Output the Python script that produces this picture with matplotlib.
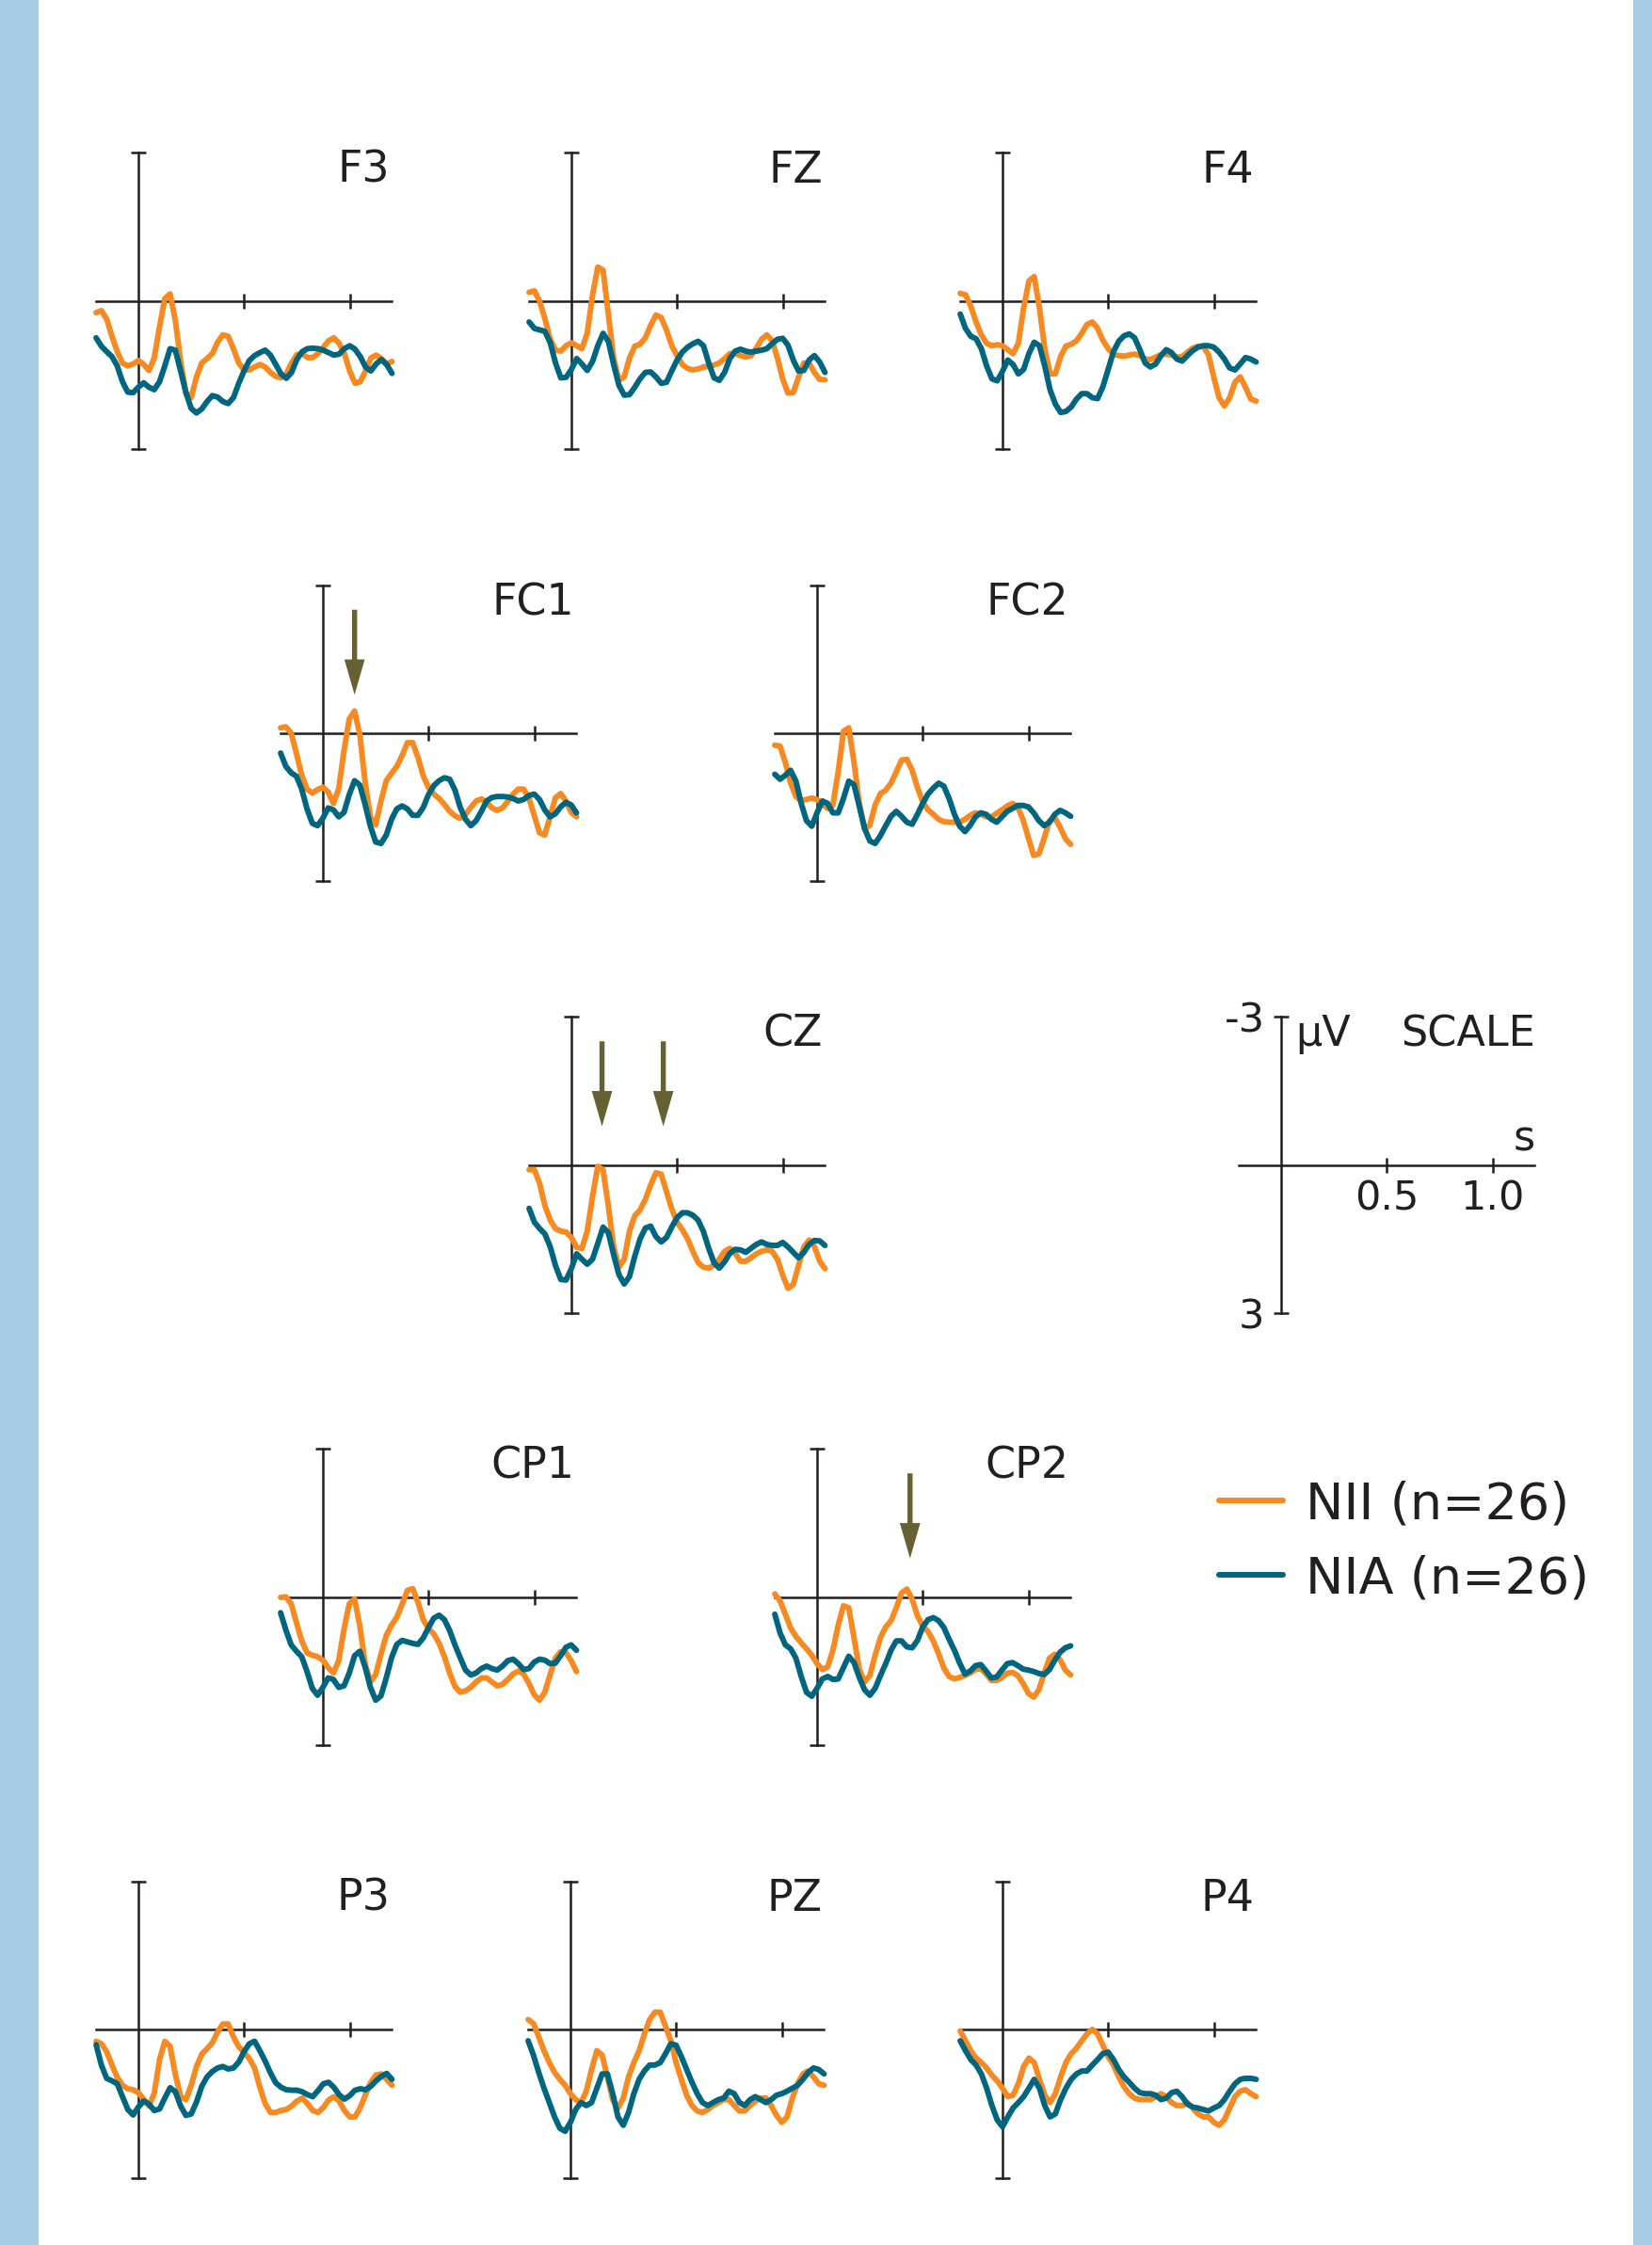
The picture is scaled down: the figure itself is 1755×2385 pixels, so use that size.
"""
ERP grand averages, NII vs NIA, 11 electrodes plus a scale panel.
Negative is plotted up, as usual for ERPs.
"""

import numpy as np
import matplotlib
matplotlib.use("Agg")
import matplotlib.pyplot as plt
from matplotlib.patches import FancyArrowPatch, ArrowStyle, Rectangle
from matplotlib.lines import Line2D

# --- data: amplitude (uV) sampled every 25 ms from -0.2 s to 1.2 s ---
F3_NII = [0.24, 0.20, 0.37, 0.72, 1.03, 1.26, 1.32, 1.28, 1.21, 1.29, 1.41, 1.16, 0.53, -0.04, -0.14, 0.40,
          1.23, 1.86, 1.96, 1.54, 1.26, 1.17, 1.07, 0.84, 0.69, 0.72, 0.97, 1.26, 1.40, 1.40, 1.34, 1.29,
          1.34, 1.45, 1.53, 1.56, 1.48, 1.26, 1.09, 1.07, 1.15, 1.15, 1.07, 0.94, 0.81, 0.75, 0.86, 1.07,
          1.42, 1.67, 1.64, 1.42, 1.16, 1.10, 1.17, 1.28, 1.23]
F3_NIA = [0.75, 0.92, 1.03, 1.13, 1.32, 1.64, 1.85, 1.86, 1.75, 1.66, 1.75, 1.80, 1.64, 1.32, 0.97, 1.00,
          1.42, 1.86, 2.18, 2.27, 2.19, 2.04, 1.92, 1.95, 2.04, 2.08, 1.96, 1.67, 1.42, 1.21, 1.11, 1.05,
          1.00, 1.10, 1.29, 1.48, 1.57, 1.45, 1.19, 1.03, 0.97, 0.96, 0.97, 1.00, 1.05, 1.10, 1.08, 0.97,
          0.91, 0.98, 1.13, 1.34, 1.42, 1.28, 1.19, 1.29, 1.47]

FZ_NII = [-0.17, -0.20, 0.01, 0.37, 0.78, 1.00, 1.02, 0.91, 0.85, 0.91, 0.97, 0.66, -0.11, -0.68, -0.62, 0.27,
          1.16, 1.61, 1.54, 1.16, 0.92, 0.88, 0.75, 0.50, 0.29, 0.34, 0.59, 0.91, 1.11, 1.29, 1.37, 1.40,
          1.38, 1.34, 1.33, 1.30, 1.26, 1.17, 1.07, 1.07, 1.11, 1.14, 1.11, 0.96, 0.78, 0.69, 0.81, 1.16,
          1.58, 1.87, 1.86, 1.55, 1.26, 1.26, 1.45, 1.59, 1.60]
FZ_NIA = [0.43, 0.56, 0.59, 0.62, 0.85, 1.26, 1.56, 1.55, 1.39, 1.17, 1.28, 1.41, 1.23, 0.91, 0.66, 0.82,
          1.29, 1.71, 1.91, 1.90, 1.75, 1.58, 1.45, 1.44, 1.54, 1.67, 1.65, 1.42, 1.20, 1.04, 0.94, 0.87,
          0.82, 0.91, 1.26, 1.56, 1.61, 1.45, 1.17, 1.02, 0.98, 1.02, 1.04, 1.02, 1.00, 0.97, 0.87, 0.78,
          0.76, 0.90, 1.20, 1.42, 1.41, 1.20, 1.11, 1.24, 1.45]

F4_NII = [-0.15, -0.12, 0.11, 0.43, 0.69, 0.86, 0.91, 0.89, 0.91, 0.99, 1.07, 0.86, 0.15, -0.40, -0.49, 0.15,
          0.97, 1.48, 1.48, 1.13, 0.92, 0.88, 0.81, 0.66, 0.48, 0.43, 0.56, 0.80, 0.97, 1.08, 1.11, 1.12,
          1.10, 1.08, 1.11, 1.18, 1.19, 1.14, 1.09, 1.08, 1.10, 1.14, 1.13, 1.04, 0.96, 0.92, 0.92, 1.10,
          1.55, 1.96, 2.13, 1.96, 1.65, 1.54, 1.75, 1.99, 2.03]
F4_NIA = [0.27, 0.56, 0.72, 0.77, 0.97, 1.32, 1.58, 1.62, 1.43, 1.20, 1.29, 1.48, 1.39, 1.07, 0.84, 0.91,
          1.32, 1.80, 2.09, 2.26, 2.24, 2.15, 1.99, 1.88, 1.88, 1.96, 1.98, 1.74, 1.39, 1.03, 0.82, 0.71,
          0.67, 0.75, 0.99, 1.26, 1.34, 1.28, 1.11, 0.99, 1.05, 1.18, 1.22, 1.11, 1.01, 0.94, 0.91, 0.91,
          0.94, 1.04, 1.18, 1.36, 1.40, 1.28, 1.15, 1.18, 1.24]

FC1_NII = [-0.11, -0.13, 0.00, 0.41, 0.85, 1.13, 1.21, 1.14, 1.09, 1.19, 1.42, 1.12, 0.35, -0.29, -0.45, 0.03,
           0.99, 1.69, 1.85, 1.37, 0.96, 0.81, 0.67, 0.45, 0.19, 0.19, 0.49, 0.86, 1.10, 1.23, 1.32, 1.44,
           1.58, 1.67, 1.72, 1.64, 1.50, 1.37, 1.33, 1.40, 1.51, 1.56, 1.51, 1.38, 1.23, 1.13, 1.13, 1.31,
           1.66, 2.01, 2.06, 1.69, 1.31, 1.22, 1.37, 1.60, 1.69]
FC1_NIA = [0.40, 0.67, 0.80, 0.87, 1.13, 1.53, 1.82, 1.87, 1.72, 1.51, 1.55, 1.69, 1.60, 1.24, 0.96, 1.05,
           1.44, 1.88, 2.20, 2.23, 2.06, 1.74, 1.53, 1.47, 1.53, 1.66, 1.66, 1.50, 1.24, 1.06, 0.96, 0.90,
           0.93, 1.15, 1.50, 1.74, 1.87, 1.77, 1.58, 1.37, 1.30, 1.28, 1.28, 1.29, 1.32, 1.37, 1.34, 1.26,
           1.23, 1.34, 1.55, 1.69, 1.63, 1.49, 1.40, 1.45, 1.61]

FC2_NII = [0.24, 0.26, 0.59, 1.01, 1.28, 1.36, 1.34, 1.31, 1.34, 1.43, 1.52, 1.45, 0.78, -0.04, -0.11, 0.59,
           1.42, 1.93, 1.86, 1.45, 1.22, 1.15, 1.01, 0.78, 0.54, 0.53, 0.75, 1.10, 1.39, 1.55, 1.64, 1.74,
           1.79, 1.80, 1.80, 1.80, 1.74, 1.66, 1.61, 1.64, 1.69, 1.69, 1.62, 1.55, 1.47, 1.42, 1.50, 1.75,
           2.12, 2.47, 2.44, 2.12, 1.77, 1.71, 1.90, 2.13, 2.25]
FC2_NIA = [0.83, 0.93, 0.85, 0.75, 0.97, 1.42, 1.77, 1.88, 1.61, 1.37, 1.42, 1.61, 1.61, 1.32, 0.97, 1.04,
           1.48, 1.93, 2.18, 2.23, 2.07, 1.87, 1.68, 1.58, 1.68, 1.80, 1.84, 1.64, 1.42, 1.23, 1.11, 1.01,
           1.07, 1.32, 1.64, 1.88, 1.99, 1.86, 1.69, 1.61, 1.64, 1.74, 1.80, 1.69, 1.58, 1.52, 1.46, 1.46,
           1.49, 1.61, 1.77, 1.87, 1.80, 1.64, 1.56, 1.61, 1.68]

CZ_NII = [0.10, 0.10, 0.38, 0.83, 1.12, 1.29, 1.34, 1.36, 1.47, 1.67, 1.69, 1.34, 0.64, 0.03, 0.10, 0.83,
          1.66, 2.07, 1.91, 1.34, 1.03, 0.91, 0.70, 0.41, 0.16, 0.19, 0.54, 0.89, 1.16, 1.31, 1.50, 1.75,
          1.98, 2.07, 2.09, 2.03, 1.91, 1.75, 1.69, 1.79, 1.95, 1.95, 1.88, 1.80, 1.75, 1.72, 1.75, 1.91,
          2.23, 2.50, 2.42, 2.04, 1.66, 1.52, 1.65, 1.95, 2.10]
CZ_NIA = [0.88, 1.16, 1.29, 1.40, 1.66, 2.04, 2.32, 2.33, 2.10, 1.80, 1.91, 2.01, 1.91, 1.59, 1.26, 1.37,
          1.82, 2.22, 2.41, 2.26, 1.85, 1.50, 1.28, 1.24, 1.45, 1.56, 1.47, 1.26, 1.07, 0.97, 0.97, 1.02,
          1.12, 1.35, 1.69, 1.98, 2.09, 1.96, 1.79, 1.71, 1.72, 1.77, 1.69, 1.61, 1.56, 1.61, 1.63, 1.63,
          1.57, 1.66, 1.77, 1.88, 1.77, 1.61, 1.53, 1.54, 1.63]

CP1_NII = [0.01, 0.00, 0.14, 0.52, 0.89, 1.13, 1.18, 1.21, 1.28, 1.43, 1.54, 1.29, 0.65, 0.14, 0.04, 0.59,
           1.35, 1.72, 1.57, 1.16, 0.78, 0.57, 0.41, 0.15, -0.13, -0.17, 0.11, 0.46, 0.64, 0.75, 0.94, 1.21,
           1.54, 1.81, 1.93, 1.90, 1.83, 1.72, 1.64, 1.64, 1.72, 1.80, 1.77, 1.67, 1.56, 1.50, 1.56, 1.75,
           1.98, 2.09, 1.93, 1.58, 1.24, 1.11, 1.13, 1.29, 1.51]
CP1_NIA = [0.32, 0.67, 0.97, 1.10, 1.21, 1.51, 1.85, 1.99, 1.83, 1.64, 1.67, 1.83, 1.80, 1.54, 1.19, 1.10,
           1.42, 1.83, 2.09, 2.00, 1.64, 1.23, 0.96, 0.88, 0.91, 0.94, 0.96, 0.83, 0.62, 0.43, 0.37, 0.46,
           0.68, 0.97, 1.23, 1.48, 1.58, 1.54, 1.45, 1.40, 1.45, 1.48, 1.40, 1.29, 1.26, 1.35, 1.47, 1.45,
           1.32, 1.26, 1.28, 1.35, 1.34, 1.19, 1.02, 0.97, 1.08]

CP2_NII = [-0.06, 0.08, 0.35, 0.63, 0.80, 0.93, 1.05, 1.18, 1.35, 1.47, 1.42, 1.08, 0.57, 0.18, 0.22, 0.83,
           1.47, 1.72, 1.59, 1.18, 0.82, 0.61, 0.48, 0.22, -0.08, -0.16, 0.05, 0.38, 0.59, 0.70, 0.89, 1.15,
           1.44, 1.61, 1.66, 1.63, 1.59, 1.54, 1.47, 1.45, 1.56, 1.69, 1.69, 1.63, 1.54, 1.53, 1.59, 1.75,
           1.95, 2.03, 1.88, 1.54, 1.24, 1.16, 1.27, 1.48, 1.58]
CP2_NIA = [0.35, 0.73, 0.97, 1.05, 1.24, 1.61, 1.93, 2.01, 1.85, 1.66, 1.61, 1.67, 1.66, 1.43, 1.20, 1.33,
           1.63, 1.88, 1.99, 1.85, 1.59, 1.35, 1.08, 0.89, 0.89, 1.01, 1.03, 0.88, 0.61, 0.46, 0.42, 0.48,
           0.62, 0.86, 1.08, 1.34, 1.56, 1.50, 1.39, 1.37, 1.50, 1.64, 1.62, 1.48, 1.35, 1.33, 1.39, 1.46,
           1.48, 1.51, 1.55, 1.57, 1.47, 1.28, 1.12, 1.03, 0.99]

P3_NII = [0.24, 0.29, 0.45, 0.72, 0.97, 1.13, 1.20, 1.22, 1.28, 1.41, 1.55, 1.29, 0.62, 0.24, 0.34, 0.91,
          1.36, 1.42, 1.13, 0.75, 0.50, 0.39, 0.27, 0.05, -0.11, -0.11, 0.15, 0.35, 0.46, 0.59, 0.78, 1.17,
          1.50, 1.68, 1.68, 1.64, 1.62, 1.55, 1.45, 1.39, 1.50, 1.64, 1.68, 1.58, 1.43, 1.36, 1.45, 1.64,
          1.77, 1.77, 1.58, 1.32, 1.07, 0.92, 0.90, 1.01, 1.13]
P3_NIA = [0.31, 0.72, 0.99, 1.04, 1.10, 1.36, 1.62, 1.73, 1.57, 1.45, 1.51, 1.64, 1.61, 1.39, 1.18, 1.26,
          1.55, 1.74, 1.71, 1.47, 1.15, 0.96, 0.85, 0.78, 0.75, 0.80, 0.78, 0.66, 0.45, 0.29, 0.24, 0.43,
          0.64, 0.88, 1.08, 1.17, 1.22, 1.23, 1.23, 1.26, 1.32, 1.36, 1.24, 1.10, 1.07, 1.17, 1.32, 1.41,
          1.34, 1.23, 1.20, 1.22, 1.15, 1.04, 0.95, 0.89, 1.01]

PZ_NII = [-0.20, -0.12, 0.15, 0.43, 0.67, 0.87, 1.01, 1.13, 1.30, 1.42, 1.48, 1.25, 0.81, 0.43, 0.52, 0.96,
          1.42, 1.59, 1.39, 0.96, 0.67, 0.43, 0.09, -0.20, -0.35, -0.35, -0.06, 0.23, 0.67, 1.01, 1.33, 1.54,
          1.65, 1.68, 1.62, 1.54, 1.48, 1.42, 1.42, 1.54, 1.65, 1.65, 1.54, 1.45, 1.39, 1.39, 1.54, 1.74,
          1.88, 1.77, 1.39, 1.10, 0.90, 0.84, 0.96, 1.10, 1.13]
PZ_NIA = [0.23, 0.52, 0.87, 1.19, 1.48, 1.77, 2.00, 2.06, 1.88, 1.62, 1.48, 1.54, 1.48, 1.19, 0.90, 0.90,
          1.30, 1.77, 1.94, 1.68, 1.30, 1.01, 0.84, 0.72, 0.72, 0.67, 0.49, 0.29, 0.32, 0.55, 0.81, 1.07,
          1.30, 1.48, 1.54, 1.48, 1.42, 1.39, 1.25, 1.30, 1.48, 1.54, 1.42, 1.36, 1.42, 1.48, 1.42, 1.33,
          1.30, 1.25, 1.19, 1.13, 1.01, 0.87, 0.78, 0.81, 0.90]

P4_NII = [0.03, 0.23, 0.43, 0.58, 0.67, 0.78, 0.93, 1.04, 1.19, 1.36, 1.33, 1.10, 0.75, 0.58, 0.67, 1.01,
          1.33, 1.48, 1.30, 0.96, 0.67, 0.49, 0.38, 0.23, 0.09, 0.00, 0.09, 0.32, 0.55, 0.72, 0.96, 1.16,
          1.30, 1.39, 1.42, 1.42, 1.42, 1.36, 1.30, 1.36, 1.48, 1.54, 1.54, 1.48, 1.59, 1.71, 1.77, 1.77,
          1.88, 1.94, 1.83, 1.59, 1.36, 1.25, 1.22, 1.30, 1.36]
P4_NIA = [0.23, 0.43, 0.61, 0.72, 0.90, 1.19, 1.54, 1.83, 1.97, 1.77, 1.59, 1.48, 1.36, 1.19, 1.01, 1.19,
          1.54, 1.77, 1.71, 1.42, 1.19, 1.01, 0.90, 0.84, 0.84, 0.72, 0.61, 0.49, 0.46, 0.61, 0.81, 0.96,
          1.07, 1.19, 1.28, 1.30, 1.30, 1.33, 1.42, 1.39, 1.28, 1.25, 1.36, 1.51, 1.57, 1.59, 1.62, 1.65,
          1.59, 1.54, 1.42, 1.25, 1.10, 1.01, 0.99, 0.99, 1.01]

ELECTRODES = ['F3', 'FZ', 'F4', 'FC1', 'FC2', 'CZ', 'CP1', 'CP2', 'P3', 'PZ', 'P4']
NII_DATA = [F3_NII, FZ_NII, F4_NII, FC1_NII, FC2_NII, CZ_NII, CP1_NII, CP2_NII, P3_NII, PZ_NII, P4_NII]
NIA_DATA = [F3_NIA, FZ_NIA, F4_NIA, FC1_NIA, FC2_NIA, CZ_NIA, CP1_NIA, CP2_NIA, P3_NIA, PZ_NIA, P4_NIA]
GROUP_LABELS = ['NII (n=26)', 'NIA (n=26)']

# arrows mark the effects (electrode, latency in s)
ARROWS = [('FC1', 0.15), ('CZ', 0.145), ('CZ', 0.435), ('CP2', 0.44)]

# --- layout (pixels in the 1755 x 2385 canvas) ---
W, H = 1755, 2385
PX_S = 224.5     # pixels per second
PX_UV = 52.5     # pixels per microvolt
# (x of t=0, y of 0 uV) for each panel
ORIGINS = {
    'F3': (147, 319.5), 'FZ': (607, 319.5), 'F4': (1065, 319.5),
    'FC1': (343, 779), 'FC2': (868, 779),
    'CZ': (607, 1237.5), 'SCALE': (1361, 1237.5),
    'CP1': (343, 1696.5), 'CP2': (868, 1696.5),
    'P3': (147, 2156), 'PZ': (606, 2156), 'P4': (1065, 2156),
}

NII_COLOR = '#f68a20'
NIA_COLOR = '#00667f'
AXIS_COLOR = '#231f20'
ARROW_COLOR = '#666132'
BAND_COLOR = '#a9cde4'
WAVE_LW = 4.3

plt.rcParams['font.family'] = ['DejaVu Sans']


def make_panel(fig, x0, y0, show_labels=False):
    ax = fig.add_axes([(x0 - 0.2 * PX_S) / W, 1 - (y0 + 3 * PX_UV) / H,
                       1.4 * PX_S / W, 6 * PX_UV / H])
    ax.set_xlim(-0.2, 1.2)
    ax.set_ylim(3, -3)
    ax.patch.set_visible(False)
    for side in ['top', 'right']:
        ax.spines[side].set_visible(False)
    ax.spines['left'].set_position(('data', 0))
    ax.spines['bottom'].set_position(('data', 0))
    for side in ['left', 'bottom']:
        ax.spines[side].set_color(AXIS_COLOR)
        ax.spines[side].set_linewidth(1.8)
        ax.spines[side].set_clip_on(False)
    ax.set_xticks([0.5, 1.0])
    ax.set_yticks([-3, 3])
    ax.tick_params(direction='inout', length=11, width=1.8, color=AXIS_COLOR,
                   labelcolor=AXIS_COLOR, labelsize=31)
    ax.tick_params(axis='x', pad=5)
    ax.tick_params(axis='y', pad=7)
    if show_labels:
        ax.set_xticklabels(['0.5', '1.0'])
        ax.set_yticklabels(['-3', '3'])
    else:
        ax.set_xticklabels([])
        ax.set_yticklabels([])
    for tick in ax.xaxis.get_major_ticks() + ax.yaxis.get_major_ticks():
        tick.tick1line.set_clip_on(False)
    return ax


fig = plt.figure(figsize=(W / 100, H / 100), dpi=100)
fig.patch.set_facecolor('white')

# light blue side bands
fig.add_artist(Rectangle((0, 0), 41 / W, 1, transform=fig.transFigure,
                         color=BAND_COLOR, lw=0, zorder=0))
fig.add_artist(Rectangle((1735 / W, 0), 20 / W, 1, transform=fig.transFigure,
                         color=BAND_COLOR, lw=0, zorder=0))

axes = {}
for name, nii, nia in zip(ELECTRODES, NII_DATA, NIA_DATA):
    x0, y0 = ORIGINS[name]
    ax = make_panel(fig, x0, y0)
    t_nii = np.linspace(-0.2, 1.2, len(nii))
    t_nia = np.linspace(-0.2, 1.2, len(nia))
    ax.plot(t_nii, nii, color=NII_COLOR, lw=WAVE_LW, solid_capstyle='round',
            solid_joinstyle='round', zorder=3, clip_on=False)
    ax.plot(t_nia, nia, color=NIA_COLOR, lw=WAVE_LW, solid_capstyle='round',
            solid_joinstyle='round', zorder=4, clip_on=False)
    ax.text(1.19, -2.4, name, ha='right', va='baseline', fontsize=33,
            color=AXIS_COLOR)
    axes[name] = ax

for name, lat in ARROWS:
    arrow = FancyArrowPatch((lat, -2.5), (lat, -0.78),
                            arrowstyle=ArrowStyle.Simple(head_length=0.9, head_width=0.52,
                                                         tail_width=0.13),
                            mutation_scale=30, color=ARROW_COLOR, lw=0,
                            shrinkA=0, shrinkB=0, zorder=5)
    axes[name].add_patch(arrow)

# scale panel
x0, y0 = ORIGINS['SCALE']
sax = make_panel(fig, x0, y0, show_labels=True)
sax.text(0.07, -2.4, 'μV', ha='left', va='baseline', fontsize=32, color=AXIS_COLOR)
sax.text(1.2, -2.4, 'SCALE', ha='right', va='baseline', fontsize=32, color=AXIS_COLOR)
sax.text(1.2, -0.29, 's', ha='right', va='baseline', fontsize=32, color=AXIS_COLOR)

# legend
handles = [Line2D([], [], color=NII_COLOR, lw=WAVE_LW, solid_capstyle='round'),
           Line2D([], [], color=NIA_COLOR, lw=WAVE_LW, solid_capstyle='round')]
fig.legend(handles, GROUP_LABELS, loc='upper left',
           bbox_to_anchor=(1295 / W, 1 - 1572 / H), frameon=False,
           fontsize=39, handlelength=1.25, handletextpad=0.45,
           labelspacing=0.5, borderpad=0, borderaxespad=0,
           labelcolor=AXIS_COLOR)

fig.savefig('out.png', dpi=100, facecolor=fig.get_facecolor())
